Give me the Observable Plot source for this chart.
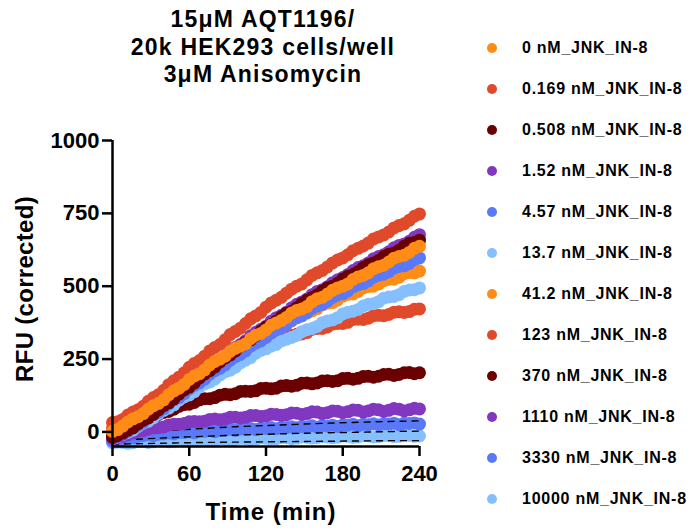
<!DOCTYPE html>
<html>
<head>
<meta charset="utf-8">
<script src="https://cdn.jsdelivr.net/npm/d3@7"></script>
<script src="https://cdn.jsdelivr.net/npm/@observablehq/plot@0.6"></script>
<style>
  html, body { margin: 0; padding: 0; background: #fff; }
  #wrap { position: relative; width: 691px; height: 528px; font-family: "Liberation Sans", Arial, sans-serif; font-weight: bold; color: #000; }
  #chart { position: absolute; left: 0; top: 0; }
  #title { position: absolute; left: 0; top: 6px; width: 526px; text-align: center; font-size: 23px; line-height: 27.5px; letter-spacing: 1.2px; }
  #ylab { position: absolute; left: 25px; top: 289px; transform: translate(-50%, -50%) rotate(-90deg); font-size: 24px; letter-spacing: 0.3px; white-space: nowrap; }
  #xlab { position: absolute; left: 271px; top: 500px; transform: translateX(-50%); font-size: 24px; line-height: 24px; letter-spacing: 1px; white-space: nowrap; }
  #legend { position: absolute; left: 487px; top: 28px; }
  .item { height: 40.94px; display: flex; align-items: center; font-size: 16px; letter-spacing: 0.75px; white-space: nowrap; }
  .sw { width: 10px; height: 10px; border-radius: 50%; margin-right: 25px; flex: none; }
</style>
</head>
<body>
<div id="wrap">
  <div id="chart"></div>
  <div id="title"></div>
  <div id="ylab"></div>
  <div id="xlab"></div>
  <div id="legend"></div>
</div>
<script>
const titleLines = ["15μM AQT1196/", "20k HEK293 cells/well", "3μM Anisomycin"];
const yTitle = "RFU (corrected)";
const xTitle = "Time (min)";
const xTicks = [0, 60, 120, 180, 240];
const yTicks = [0, 250, 500, 750, 1000];

const seriesNames = ["0 nM_JNK_IN-8", "0.169 nM_JNK_IN-8", "0.508 nM_JNK_IN-8", "1.52 nM_JNK_IN-8",
  "4.57 nM_JNK_IN-8", "13.7 nM_JNK_IN-8", "41.2 nM_JNK_IN-8", "123 nM_JNK_IN-8",
  "370 nM_JNK_IN-8", "1110 nM_JNK_IN-8", "3330 nM_JNK_IN-8", "10000 nM_JNK_IN-8"];
const seriesColors = ["#FF8C16", "#E0492A", "#6A0000", "#8237C0", "#5A78F8", "#85BFFF",
  "#FF8C16", "#E0492A", "#6A0000", "#8237C0", "#5A78F8", "#85BFFF"];

const time = [0, 4, 8, 12, 16, 20, 24, 28, 32, 36, 40, 44, 48, 52, 56, 60, 64, 68, 72, 76, 80, 84, 88, 92, 96, 100,
  104, 108, 112, 116, 120, 124, 128, 132, 136, 140, 144, 148, 152, 156, 160, 164, 168, 172, 176, 180, 184, 188, 192,
  196, 200, 204, 208, 212, 216, 220, 224, 228, 232, 236, 240];

const s0 = [2, 8, 20, 34, 45, 52, 63, 78, 90, 98, 110, 128, 141, 150, 163, 180, 192, 200, 213, 230, 242, 250, 260, 276, 287, 294, 303, 320, 332, 338, 350, 366, 374, 382, 393, 408, 417, 422, 430, 447, 457, 462, 473, 486, 494, 500, 508, 523, 532, 537, 546, 560, 567, 572, 583, 596, 602, 606, 616, 630, 637];
const s1 = [32, 35, 43, 58, 68, 76, 88, 105, 118, 128, 143, 162, 176, 188, 203, 222, 235, 245, 260, 278, 290, 300, 316, 334, 345, 356, 372, 388, 398, 410, 428, 442, 452, 462, 476, 490, 500, 508, 522, 537, 546, 554, 566, 580, 590, 597, 608, 622, 630, 638, 648, 662, 669, 676, 686, 700, 708, 714, 726, 740, 748];
const s2 = [-18, -12, -3, 6, 14, 28, 40, 48, 60, 76, 90, 100, 113, 130, 144, 154, 168, 185, 199, 210, 223, 240, 254, 264, 278, 294, 307, 316, 330, 346, 360, 368, 380, 395, 407, 414, 426, 441, 452, 460, 470, 484, 494, 500, 510, 524, 534, 540, 550, 564, 574, 580, 588, 602, 610, 614, 623, 637, 647, 650, 658];
const s3 = [-22, -15, -6, 8, 20, 28, 40, 56, 70, 80, 93, 110, 124, 134, 148, 166, 180, 190, 203, 220, 234, 244, 258, 276, 290, 300, 313, 330, 342, 352, 363, 380, 392, 400, 411, 426, 438, 446, 456, 471, 482, 488, 498, 512, 522, 530, 540, 554, 564, 570, 580, 594, 602, 608, 618, 632, 640, 645, 654, 668, 677];
const s4 = [-20, -16, -9, 2, 13, 22, 33, 48, 60, 68, 80, 96, 110, 118, 131, 148, 160, 168, 181, 198, 210, 218, 230, 246, 258, 266, 278, 294, 305, 312, 324, 340, 350, 356, 368, 383, 392, 398, 408, 424, 432, 438, 448, 462, 470, 474, 484, 498, 505, 509, 518, 531, 538, 541, 550, 562, 568, 570, 578, 591, 597];
const s5 = [-22, -17, -9, -2, 6, 19, 30, 37, 48, 63, 74, 82, 93, 109, 120, 127, 138, 154, 165, 171, 181, 196, 206, 212, 222, 237, 246, 255, 270, 280, 285, 294, 300, 312, 318, 324, 331, 344, 351, 355, 362, 375, 381, 384, 392, 405, 411, 414, 420, 432, 438, 440, 447, 459, 463, 465, 471, 482, 487, 488, 494];
const s6 = [-6, 3, 16, 24, 36, 52, 62, 70, 80, 98, 110, 118, 130, 148, 160, 167, 180, 197, 207, 214, 228, 244, 254, 260, 273, 288, 297, 304, 316, 332, 340, 345, 354, 369, 377, 381, 391, 405, 412, 415, 423, 436, 442, 444, 453, 466, 472, 474, 482, 494, 499, 500, 508, 519, 524, 524, 531, 543, 547, 546, 552];
const s7 = [12, 15, 23, 38, 47, 52, 63, 80, 90, 97, 110, 127, 137, 144, 156, 172, 182, 187, 198, 213, 222, 226, 236, 250, 257, 260, 268, 281, 287, 289, 296, 308, 312, 314, 320, 331, 335, 336, 341, 352, 355, 355, 360, 370, 372, 372, 376, 386, 387, 386, 390, 399, 400, 399, 403, 411, 412, 410, 413, 421, 422];
const s8 = [-12, -6, 4, 12, 18, 30, 37, 41, 48, 60, 67, 70, 78, 88, 94, 95, 101, 110, 114, 114, 118, 126, 129, 128, 131, 139, 140, 139, 141, 149, 150, 148, 150, 158, 159, 157, 160, 167, 168, 165, 168, 175, 176, 173, 176, 183, 184, 181, 184, 190, 191, 188, 191, 197, 198, 194, 197, 203, 204, 200, 203];
const s9 = [-24, -20, -16, -8, -3, 2, 4, 10, 14, 15, 17, 24, 26, 26, 29, 35, 36, 35, 37, 43, 44, 42, 44, 50, 50, 48, 50, 56, 56, 53, 55, 61, 60, 57, 59, 65, 64, 60, 63, 69, 68, 63, 66, 72, 71, 66, 69, 75, 74, 68, 72, 78, 76, 70, 74, 80, 78, 72, 76, 81, 79];
const s10 = [-32, -28, -24, -20, -21, -15, -13, -10, -13, -8, -7, -4, -7, -2, -2, 1, -3, 2, 2, 5, 1, 6, 6, 9, 5, 10, 10, 12, 8, 13, 12, 15, 11, 16, 15, 18, 14, 19, 18, 21, 16, 22, 20, 23, 19, 24, 23, 26, 21, 26, 25, 28, 24, 28, 27, 30, 25, 30, 29, 31, 27];
const s11 = [-38, -35, -36, -39, -37, -33, -33, -36, -34, -30, -31, -34, -32, -28, -29, -32, -30, -26, -27, -30, -28, -24, -25, -28, -26, -22, -23, -26, -25, -21, -22, -24, -23, -19, -20, -23, -21, -17, -18, -21, -20, -16, -17, -20, -18, -14, -15, -18, -17, -13, -14, -17, -16, -12, -13, -16, -15, -11, -12, -15, -14];

const dashTime = [0, 24, 48, 72, 96, 120, 144, 168, 192, 216, 240];
const dashA = [-12, -2, 6, 12, 18, 22, 26, 30, 33, 36, 38];
const dashB = [-30, -24, -19, -15, -11, -8, -5, -3, -1, 1, 3];
const dashC = [-42, -40, -38, -36, -35, -34, -33, -32, -31, -30, -30];

const allSeries = [s0, s1, s2, s3, s4, s5, s6, s7, s8, s9, s10, s11];

function rowsFor(indices) {
  const out = [];
  for (const i of indices) {
    allSeries[i].forEach((v, k) => out.push({t: time[k], v, s: seriesNames[i]}));
  }
  return out;
}
const lowRows = rowsFor([11, 10]);
const highRows = rowsFor([9, 8, 7, 6, 5, 4, 3, 2, 1, 0]);
const dashRows = [];
[["A", dashA], ["B", dashB], ["C", dashC]].forEach(([k, arr]) =>
  arr.forEach((v, j) => dashRows.push({t: dashTime[j], v, k})));

const color = {domain: seriesNames, range: seriesColors};

const plot = Plot.plot({
  width: 691,
  height: 528,
  marginLeft: 112,
  marginRight: 272,
  marginTop: 140,
  marginBottom: 82,
  style: {fontFamily: "'Liberation Sans', Arial, sans-serif", fontWeight: "bold", fontSize: "22px", color: "#000", background: "transparent"},
  x: {domain: [0, 240], axis: null},
  y: {domain: [-50, 1000], axis: null},
  color,
  marks: [
    Plot.dot(lowRows, {x: "t", y: "v", fill: "s", r: 6.5}),
    Plot.line(dashRows, {x: "t", y: "v", z: "k", stroke: "#000", strokeWidth: 1.4, strokeDasharray: "6,6"}),
    Plot.dot(highRows, {x: "t", y: "v", fill: "s", r: 6.5}),
    Plot.ruleX([0], {y1: -50, y2: 1000, stroke: "#000", strokeWidth: 2.5}),
    Plot.ruleY([-50], {x1: 0, x2: 240, stroke: "#000", strokeWidth: 2.5}),
    Plot.axisY({ticks: yTicks, tickFormat: d => String(d), tickSize: 10, tickPadding: 3, strokeWidth: 2.5, fontSize: 22, fontWeight: "bold", label: null}),
    Plot.axisX({ticks: xTicks, tickFormat: d => String(d), tickSize: 10, tickPadding: 9, strokeWidth: 2.5, fontSize: 22, fontWeight: "bold", label: null, anchor: "bottom"})
  ]
});
document.getElementById("chart").appendChild(plot);

document.getElementById("title").innerHTML = titleLines.map(t => `<div>${t}</div>`).join("");
document.getElementById("ylab").textContent = yTitle;
document.getElementById("xlab").textContent = xTitle;
const leg = document.getElementById("legend");
seriesNames.forEach((n, i) => {
  const it = document.createElement("div");
  it.className = "item";
  const sw = document.createElement("span");
  sw.className = "sw";
  sw.style.background = seriesColors[i];
  const tx = document.createElement("span");
  tx.textContent = n;
  it.appendChild(sw);
  it.appendChild(tx);
  leg.appendChild(it);
});
</script>
</body>
</html>
